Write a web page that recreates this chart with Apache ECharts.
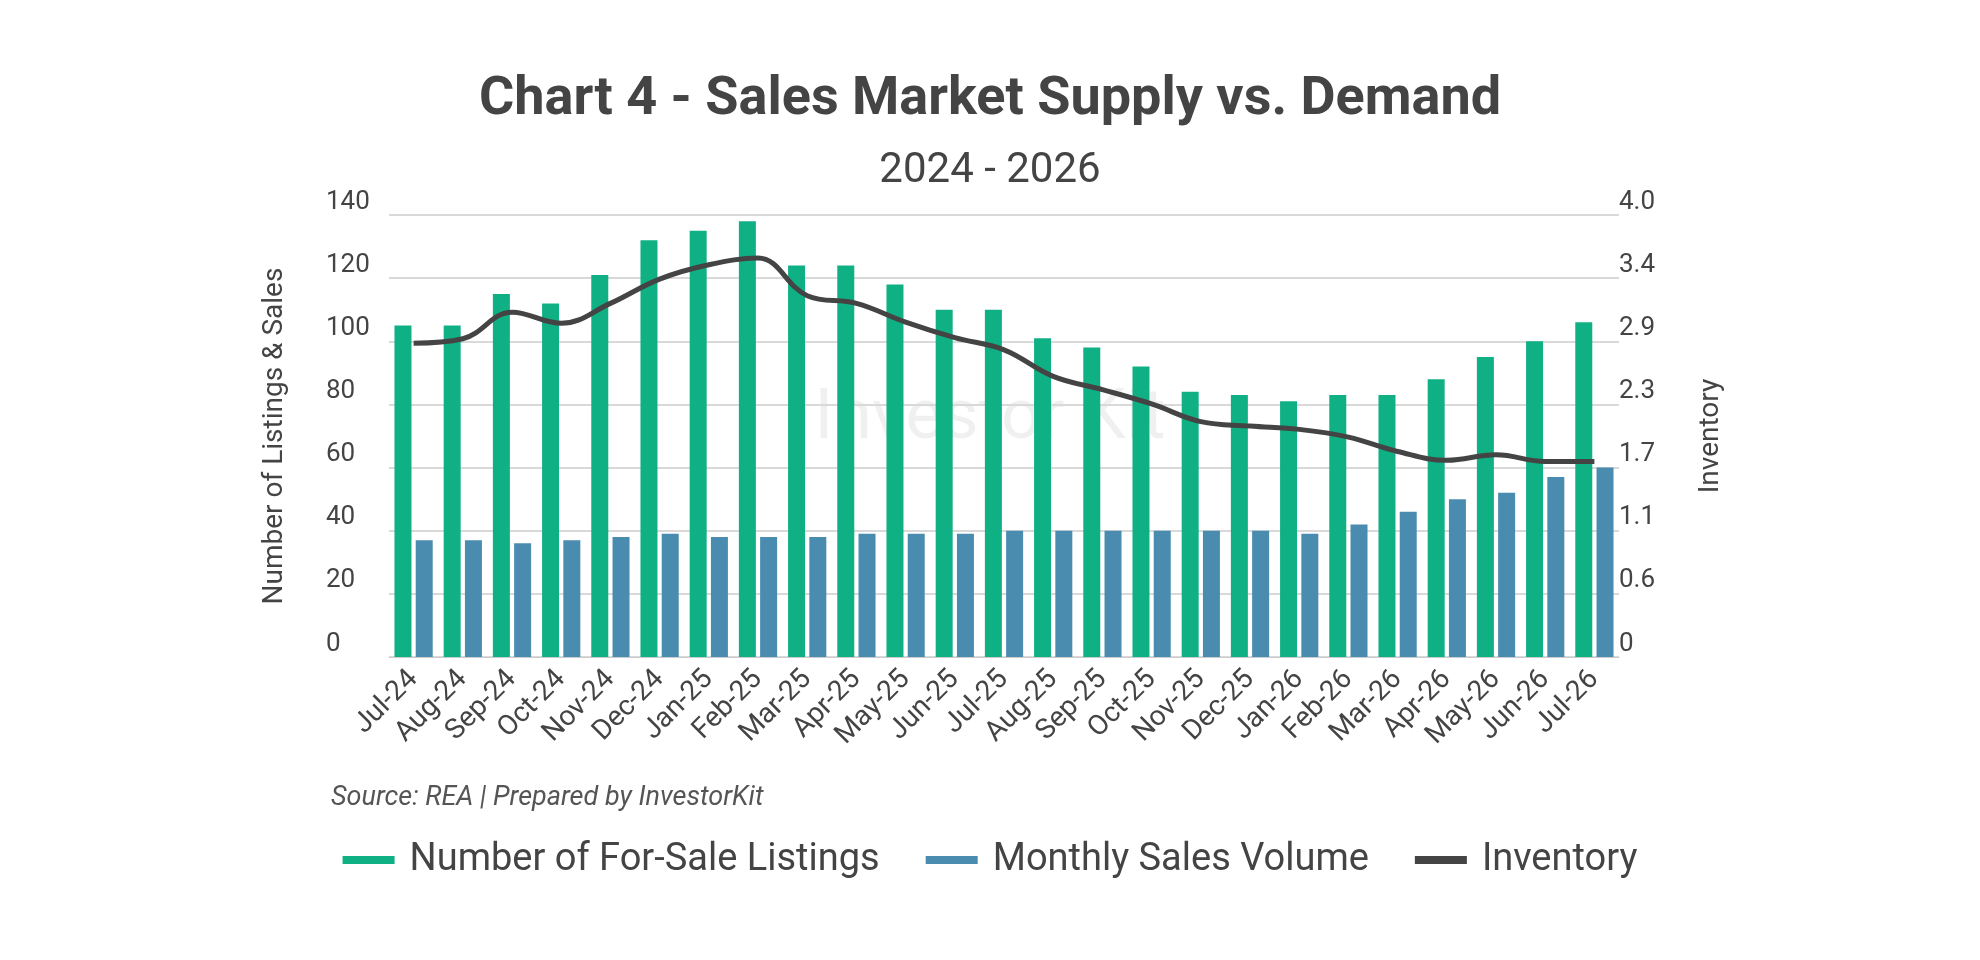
<!DOCTYPE html>
<html>
<head>
<meta charset="utf-8">
<script src="https://cdn.jsdelivr.net/npm/echarts@6/dist/echarts.min.js"></script>
<style>
  html, body { margin: 0; padding: 0; background: #fff; }
  #chart { width: 1980px; height: 960px; }
</style>
</head>
<body>
<div id="chart"></div>
<script>
const months = ['Jul-24','Aug-24','Sep-24','Oct-24','Nov-24','Dec-24','Jan-25','Feb-25','Mar-25','Apr-25',
  'May-25','Jun-25','Jul-25','Aug-25','Sep-25','Oct-25','Nov-25','Dec-25','Jan-26','Feb-26',
  'Mar-26','Apr-26','May-26','Jun-26','Jul-26'];
const listings = [105,105,115,112,121,132,135,138,124,124,118,110,110,101,98,92,84,83,81,83,83,88,95,100,106];
const sales = [37,37,36,37,38,39,38,38,38,39,39,39,40,40,40,40,40,40,39,42,46,50,52,57,60];
const inventory = [2.84,2.88,3.12,3.02,3.2,3.42,3.55,3.61,3.27,3.2,3.03,2.89,2.78,2.54,2.42,2.29,2.13,2.09,2.06,1.99,1.86,1.78,1.83,1.77,1.77];
const rightTicks = ['0','0.6','1.1','1.7','2.3','2.9','3.4','4.0'];

var myChart = echarts.init(document.getElementById('chart'));

const font = 'Roboto';
option = {
  textStyle: { fontFamily: font },
  title: [{
    text: 'Chart 4 - Sales Market Supply vs. Demand',
    left: 'center', top: 68,
    textStyle: { fontSize: 54, fontWeight: 'bold', color: '#444', fontFamily: font }
  }, {
    text: '2024 - 2026',
    left: 'center', top: 145,
    textStyle: { fontSize: 42, fontWeight: 'normal', color: '#444', fontFamily: font }
  }, {
    text: 'Source: REA | Prepared by InvestorKit',
    left: 326, top: 780,
    textStyle: { fontSize: 27, fontStyle: 'italic', fontWeight: 'normal', color: '#555', fontFamily: font }
  }],
  graphic: [{
    type: 'text', left: 'center', top: 385,
    style: { text: 'Investor Kit', fontSize: 70, fontFamily: font, fill: 'rgba(0,0,0,0.06)' }
  }],
  legend: {
    bottom: 76, left: 'center', itemGap: 46, itemWidth: 52, itemHeight: 8,
    textStyle: { fontSize: 38, color: '#444', fontFamily: font, padding: [0, 0, 0, 10] },
    data: [
      { name: 'Number of For-Sale Listings', icon: 'rect' },
      { name: 'Monthly Sales Volume', icon: 'rect' },
      { name: 'Inventory', icon: 'rect', itemStyle: { color: '#444' } }
    ]
  },
  grid: { left: 389, right: 361, top: 215, bottom: 303 },
  xAxis: {
    type: 'category', data: months,
    axisLine: { lineStyle: { color: '#ccc' } },
    axisTick: { show: false },
    axisLabel: { rotate: 45, fontSize: 28, color: '#444', margin: 18, interval: 0 }
  },
  yAxis: [{
    type: 'value', min: 0, max: 140, interval: 20,
    name: 'Number of Listings & Sales', nameLocation: 'middle', nameGap: 100,
    nameTextStyle: { fontSize: 28, color: '#444' },
    splitLine: { lineStyle: { color: '#d9d9d9', width: 2 } },
    axisLabel: { fontSize: 26, color: '#444', verticalAlign: 'bottom', align: 'left', margin: 63 }
  }, {
    type: 'value', min: 0, max: 4, interval: 4 / 7,
    name: 'Inventory', nameLocation: 'middle', nameGap: 78, nameRotate: 90,
    nameTextStyle: { fontSize: 28, color: '#444' },
    splitLine: { show: false },
    axisLabel: {
      fontSize: 26, color: '#444', verticalAlign: 'bottom', margin: 0,
      formatter: (v, i) => rightTicks[i]
    }
  }],
  series: [{
    name: 'Number of For-Sale Listings', type: 'bar', data: listings,
    barWidth: 17, barGap: '25%', itemStyle: { color: '#10b085' }
  }, {
    name: 'Monthly Sales Volume', type: 'bar', data: sales,
    barWidth: 17, itemStyle: { color: '#4a8cb0' }
  }, {
    name: 'Inventory', type: 'line', yAxisIndex: 1, data: inventory,
    smooth: 0.4, symbol: 'none', lineStyle: { color: '#444', width: 5 }, itemStyle: { color: '#444' }
  }]
};

myChart.setOption(option);
</script>
</body>
</html>
